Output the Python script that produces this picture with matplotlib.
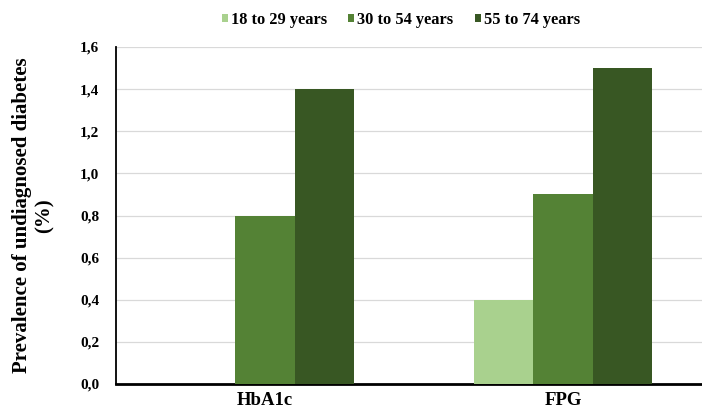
import matplotlib
matplotlib.use("Agg")
import matplotlib.pyplot as plt
import numpy as np

# Data
categories = ["HbA1c", "FPG"]
age_groups = ["18 to 29 years", "30 to 54 years", "55 to 74 years"]
prevalence = {
    "18 to 29 years": [0.0, 0.4],
    "30 to 54 years": [0.8, 0.9],
    "55 to 74 years": [1.4, 1.5],
}
yticks = [0.0, 0.2, 0.4, 0.6, 0.8, 1.0, 1.2, 1.4, 1.6]
ytick_labels = ["0,0", "0,2", "0,4", "0,6", "0,8", "1,0", "1,2", "1,4", "1,6"]

COLORS = ["#a9d18e", "#548235", "#385723"]
FONT = "Liberation Serif"

plt.rcParams["font.family"] = [FONT, "DejaVu Serif"]
plt.rcParams["font.weight"] = "bold"

fig = plt.figure(figsize=(7.02, 4.12), dpi=100)
ax = fig.add_axes([116 / 702, 28 / 412, 596 / 702, 337 / 412])

x = np.arange(len(categories))
width = 0.2
for i, (grp, col) in enumerate(zip(age_groups, COLORS)):
    ax.bar(x + (i - 1) * width, prevalence[grp], width, color=col,
           label=grp, zorder=3, linewidth=0)

ax.set_xlim(-0.5, 1.5)
ax.set_ylim(0, 1.6)
ax.set_yticks(yticks)
ax.set_yticklabels(ytick_labels, fontsize=11, fontweight="bold")
ax.set_xticks(x)
ax.set_xticklabels(categories, fontsize=13.5, fontweight="bold")
ax.tick_params(axis="y", length=0, pad=12)
ax.tick_params(axis="x", length=0, pad=6)
ax.grid(axis="y", color="#d9d9d9", linewidth=0.9, zorder=0)

for side in ["top", "right"]:
    ax.spines[side].set_visible(False)
ax.spines["left"].set_linewidth(1.3)
ax.spines["bottom"].set_linewidth(2.0)

ax.set_ylabel("Prevalence of undiagnosed diabetes\n(%)", fontsize=15,
              fontweight="bold", labelpad=18, linespacing=1.2)

ax.legend(loc="center", bbox_to_anchor=(401 / 702, 1 - 20 / 412),
          bbox_transform=fig.transFigure, ncol=3, frameon=False,
          handlelength=0.35, handleheight=0.35,
          handletextpad=0.2, columnspacing=1.3,
          prop={"family": FONT, "weight": "bold", "size": 11.8})

fig.savefig("out.png", dpi=100)
